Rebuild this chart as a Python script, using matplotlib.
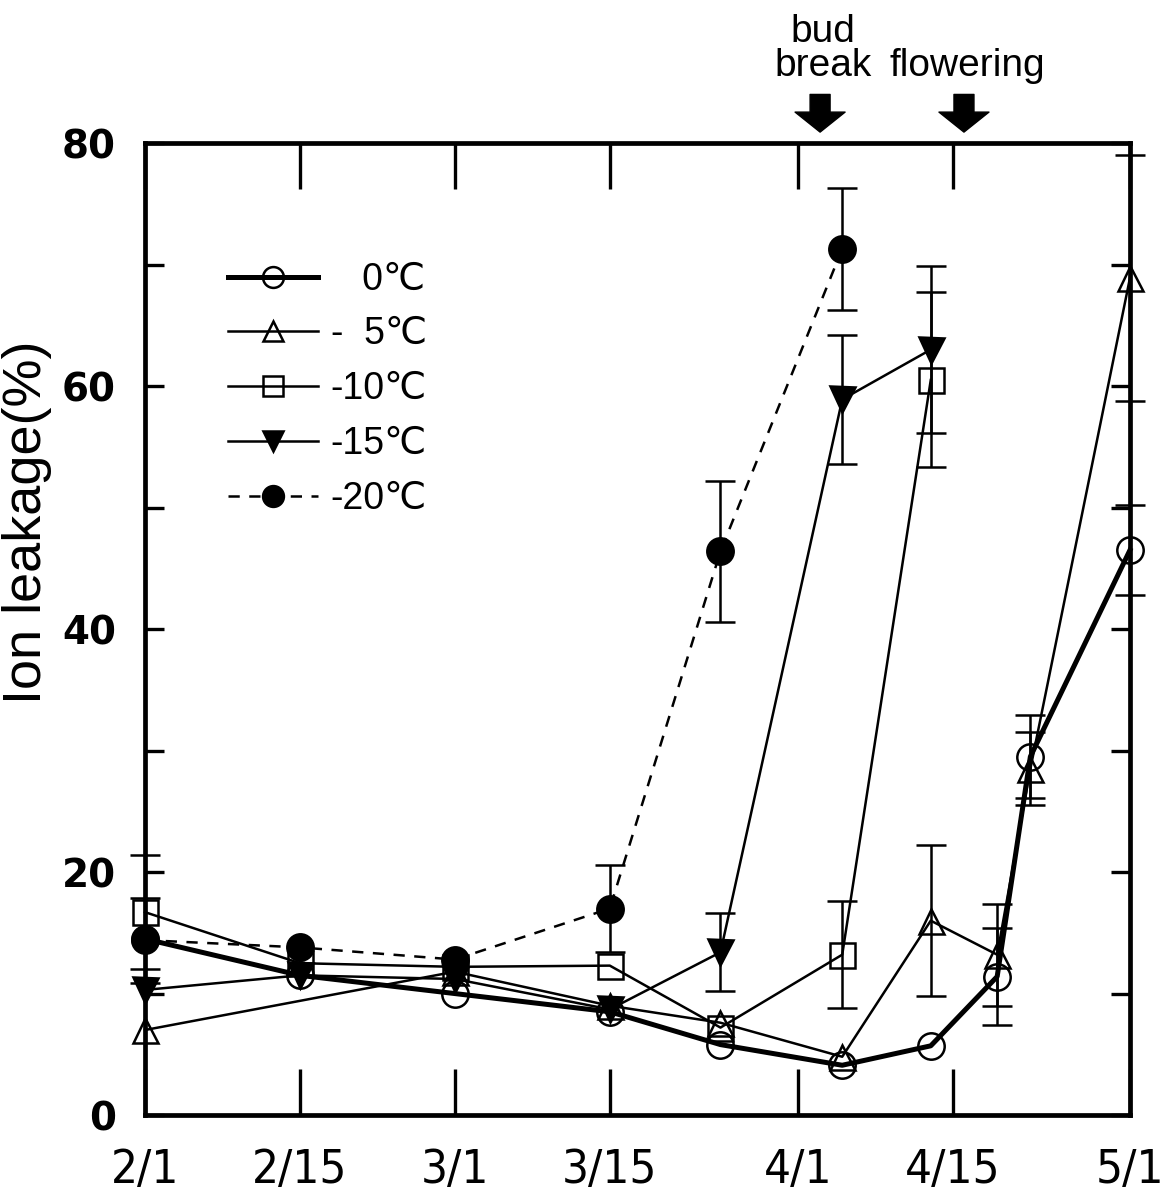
import numpy as np
import pandas as pd
import matplotlib
matplotlib.use("Agg")
import matplotlib.pyplot as plt

# sampling dates and freezing temperatures
dates = ['2/1', '2/15', '3/1', '3/15', '3/25', '4/5', '4/13', '4/19', '4/22', '5/1']
tick_dates = ['2/1', '2/15', '3/1', '3/15', '4/1', '4/15', '5/1']

# ion leakage (%) per treatment, None = not sampled
t0 = [14.5, 11.5, 10.0, 8.5, 5.8, 4.1, 5.7, 11.4, 29.5, 46.5]
t5 = [7.0, None, 11.8, 9.0, 7.6, 4.8, 16.0, 13.2, 28.5, 68.9]
t10 = [16.7, 12.5, 12.2, 12.3, 7.2, 13.2, 60.5, None, None, None]
t15 = [10.3, 11.5, 11.2, 8.7, 13.4, 58.9, 63.0, None, None, None]
t20 = [14.4, 13.8, 12.8, 17.0, 46.4, 71.3, None, None, None, None]

# standard errors (0 = no bar drawn)
e0 = [0, 0, 0, 0, 0, 0, 0, 4.0, 3.4, 3.7]
e5 = [0, 0, 0, 0, 0, 0, 6.2, 4.2, 3.0, 10.1]
e10 = [4.7, 0, 0, 0, 0, 4.4, 7.2, 0, 0, 0]
e15 = [0, 0, 0, 0, 3.2, 5.3, 6.9, 0, 0, 0]
e20 = [3.5, 0, 0, 3.6, 5.8, 5.0, 0, 0, 0, 0]

labels = ['   0\u2103', '-  5\u2103', '-10\u2103', '-15\u2103', '-20\u2103']

# phenology events
events = ['bud\nbreak', 'flowering']
event_dates = ['4/3', '4/16']


def to_day(d):
    return (pd.Timestamp('2001/' + d) - pd.Timestamp('2001/2/1')).days


x = np.array([to_day(d) for d in dates])
xt = [to_day(d) for d in tick_dates]

fig = plt.figure(figsize=(11.74, 11.99), dpi=100)
ax = fig.add_axes([0.1235, 0.07, 0.839, 0.8107])

styles = [
    dict(marker='o', mfc='none', lw=3.6, ls='-'),
    dict(marker='^', mfc='none', lw=1.8, ls='-'),
    dict(marker='s', mfc='none', lw=1.8, ls='-'),
    dict(marker='v', mfc='black', lw=1.8, ls='-'),
    dict(marker='o', mfc='black', lw=1.8, ls=(0, (4.5, 3.8))),
]
series = [t0, t5, t10, t15, t20]
errs = [e0, e5, e10, e15, e20]

handles = []
for vals, err, st, lab in zip(series, errs, styles, labels):
    v = np.array([np.nan if a is None else a for a in vals], dtype=float)
    e = np.array(err, dtype=float)
    ok = ~np.isnan(v)
    ms = 19 if st['marker'] == 'o' else 18
    h, = ax.plot(x[ok], v[ok], color='black', lw=st['lw'], ls=st['ls'],
                 marker=st['marker'], ms=ms, mfc=st['mfc'], mec='black',
                 mew=1.8, label=lab, zorder=3, clip_on=False)
    handles.append(h)
    m = ok & (e > 0)
    ax.errorbar(x[m], v[m], yerr=e[m], fmt='none', ecolor='black',
                elinewidth=1.8, capsize=11, capthick=1.8, zorder=2,
                clip_on=False)

ax.set_xlim(0, 89)
ax.set_ylim(0, 80)

ax.set_xticks(xt)
ax.set_xticklabels(tick_dates, family='DejaVu Sans', fontstretch='condensed',
                   fontsize=34)
ax.set_yticks(np.arange(0, 81, 20))
ax.set_yticks(np.arange(10, 80, 20), minor=True)
ax.set_yticklabels([str(v) for v in range(0, 81, 20)], fontsize=28,
                   fontweight='bold', family='DejaVu Sans')

ax.tick_params(axis='x', which='major', direction='in', length=33, width=2.4,
               top=True, pad=24)
ax.tick_params(axis='y', which='both', direction='in', length=14, width=2.4,
               right=True, pad=21)

for sp in ax.spines.values():
    sp.set_linewidth(3.4)

ax.set_ylabel('Ion leakage(%)', fontsize=39, family='Liberation Sans')
ax.yaxis.set_label_coords(-0.094, 0.61)

leg = ax.legend(handles=handles, loc='upper left', bbox_to_anchor=(0.084, 0.878),
                frameon=False, handlelength=2.4, handletextpad=0.35,
                labelspacing=0.5, borderpad=0, borderaxespad=0,
                prop={'family': ['Liberation Sans', 'DejaVu Sans'], 'size': 27})
for ln in leg.get_lines():
    ln.set_markersize(15)

# arrows for bud break and flowering
for lab, d in zip(events, event_dates):
    xd = to_day(d)
    ax.annotate('', xy=(xd, 80.9), xytext=(xd, 84.0), annotation_clip=False,
                arrowprops=dict(arrowstyle='simple,head_length=0.6,head_width=1.5,tail_width=0.6',
                                fc='black', ec='black', mutation_scale=24,
                                shrinkA=0, shrinkB=0))
    ax.text(xd + 0.3, 84.9, lab, ha='center', va='bottom', fontsize=28,
            family='Liberation Sans', linespacing=0.9, clip_on=False)

fig.savefig('out.png', dpi=100)
